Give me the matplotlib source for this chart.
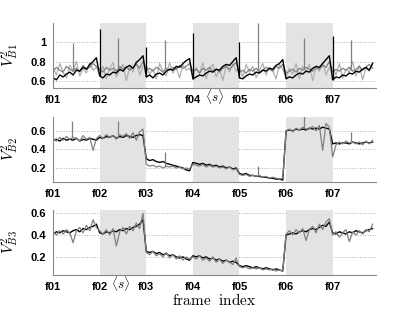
import numpy as np
import matplotlib
matplotlib.use('Agg')
import matplotlib.pyplot as plt

plt.rcParams['mathtext.fontset'] = 'cm'

# frame labels and shaded frames
frame_labels = ['f01', 'f02', 'f03', 'f04', 'f05', 'f06', 'f07']
shaded = [(1, 2), (3, 4), (5, 6)]
SAMPLES_PER_FRAME = 14

# ---- panel 1: V^2_B1 ----
b1_black = [
    [0.63, 0.61, 0.66, 0.64, 0.67, 0.69, 0.66, 0.71, 0.70, 0.74, 0.72, 0.77, 0.80, 0.84],
    [0.65, 0.63, 0.67, 0.66, 0.69, 0.68, 0.72, 0.70, 0.74, 0.76, 0.73, 0.79, 0.82, 0.86],
    [0.64, 0.66, 0.63, 0.67, 0.68, 0.66, 0.70, 0.72, 0.71, 0.75, 0.74, 0.78, 0.81, 0.83],
    [0.62, 0.64, 0.66, 0.65, 0.68, 0.70, 0.69, 0.72, 0.71, 0.75, 0.77, 0.76, 0.80, 0.84],
    [0.63, 0.62, 0.65, 0.67, 0.66, 0.69, 0.68, 0.71, 0.70, 0.73, 0.72, 0.76, 0.78, 0.82],
    [0.62, 0.64, 0.63, 0.66, 0.68, 0.67, 0.70, 0.69, 0.73, 0.75, 0.74, 0.78, 0.82, 0.86],
    [0.61, 0.64, 0.63, 0.66, 0.65, 0.68, 0.67, 0.70, 0.69, 0.72, 0.74, 0.71, 0.78],
]
b1_gray = [
    [0.70, 0.74, 0.71, 0.69, 0.75, 0.72, 0.70, 0.73, 0.70, 0.76, 0.72, 0.74, 0.78, 0.75],
    [0.72, 0.69, 0.74, 0.71, 0.73, 0.70, 0.75, 0.72, 0.75, 0.71, 0.74, 0.77, 0.73, 0.80],
    [0.71, 0.73, 0.70, 0.74, 0.72, 0.69, 0.73, 0.71, 0.74, 0.72, 0.76, 0.73, 0.75, 0.78],
    [0.70, 0.72, 0.68, 0.73, 0.71, 0.74, 0.70, 0.72, 0.69, 0.73, 0.75, 0.72, 0.76, 0.79],
    [0.69, 0.71, 0.68, 0.72, 0.70, 0.73, 0.69, 0.71, 0.74, 0.72, 0.70, 0.75, 0.73, 0.77],
    [0.68, 0.70, 0.72, 0.69, 0.73, 0.71, 0.74, 0.72, 0.70, 0.74, 0.72, 0.76, 0.74, 0.80],
    [0.69, 0.72, 0.70, 0.73, 0.71, 0.74, 0.70, 0.72, 0.75, 0.71, 0.74, 0.77, 0.73],
]
b1_light = [
    [0.74, 0.66, 0.78, 0.69, 0.63, 0.76, 0.70, 0.80, 0.65, 0.73, 0.68, 0.79, 0.71, 0.74],
    [0.66, 0.75, 0.62, 0.73, 0.79, 0.64, 0.71, 0.77, 0.60, 0.74, 0.69, 0.80, 0.66, 0.75],
    [0.76, 0.67, 0.72, 0.62, 0.78, 0.70, 0.65, 0.79, 0.68, 0.74, 0.63, 0.77, 0.71, 0.73],
    [0.65, 0.74, 0.68, 0.79, 0.62, 0.73, 0.77, 0.64, 0.72, 0.60, 0.76, 0.69, 0.78, 0.70],
    [0.73, 0.64, 0.77, 0.69, 0.75, 0.63, 0.71, 0.78, 0.66, 0.74, 0.70, 0.62, 0.77, 0.72],
    [0.64, 0.73, 0.67, 0.78, 0.62, 0.75, 0.69, 0.77, 0.60, 0.74, 0.70, 0.79, 0.66, 0.74],
    [0.74, 0.66, 0.78, 0.63, 0.72, 0.69, 0.80, 0.65, 0.76, 0.61, 0.73, 0.70, 0.79],
]
# single-sample spikes: (frame position, peak value)
b1_black_spike_x = [1.0, 2.0, 3.0, 4.0, 6.0]
b1_black_spike_top = [1.14, 0.95, 1.10, 1.00, 1.07]
b1_gray_spike_x = [0.42, 1.40, 2.40, 4.40, 5.39, 6.40]
b1_gray_spike_top = [0.99, 1.04, 1.02, 1.20, 1.05, 1.02]

# ---- panel 2: V^2_B2 ----
b2_black = [
    [0.50, 0.51, 0.49, 0.52, 0.50, 0.51, 0.50, 0.52, 0.49, 0.51, 0.50, 0.52, 0.51, 0.50],
    [0.53, 0.52, 0.54, 0.53, 0.55, 0.52, 0.54, 0.53, 0.55, 0.54, 0.53, 0.55, 0.56, 0.55],
    [0.30, 0.28, 0.29, 0.27, 0.26, 0.27, 0.25, 0.24, 0.23, 0.22, 0.21, 0.20, 0.18, 0.17],
    [0.26, 0.25, 0.24, 0.25, 0.23, 0.24, 0.22, 0.23, 0.21, 0.22, 0.20, 0.21, 0.19, 0.20],
    [0.14, 0.13, 0.14, 0.12, 0.12, 0.11, 0.11, 0.10, 0.10, 0.09, 0.09, 0.08, 0.08, 0.07],
    [0.60, 0.61, 0.60, 0.62, 0.61, 0.62, 0.61, 0.63, 0.62, 0.63, 0.62, 0.64, 0.63, 0.62],
    [0.46, 0.47, 0.46, 0.47, 0.47, 0.46, 0.48, 0.47, 0.46, 0.47, 0.48, 0.47, 0.48],
]
b2_gray = [
    [0.52, 0.49, 0.53, 0.50, 0.54, 0.51, 0.53, 0.52, 0.49, 0.55, 0.51, 0.53, 0.39, 0.52],
    [0.55, 0.52, 0.56, 0.53, 0.55, 0.51, 0.56, 0.54, 0.57, 0.52, 0.58, 0.50, 0.59, 0.62],
    [0.24, 0.22, 0.23, 0.21, 0.22, 0.20, 0.22, 0.21, 0.22, 0.20, 0.21, 0.19, 0.20, 0.19],
    [0.24, 0.23, 0.22, 0.24, 0.21, 0.23, 0.21, 0.22, 0.20, 0.21, 0.19, 0.21, 0.18, 0.19],
    [0.13, 0.12, 0.13, 0.11, 0.12, 0.11, 0.12, 0.10, 0.11, 0.09, 0.10, 0.09, 0.08, 0.09],
    [0.60, 0.62, 0.59, 0.63, 0.61, 0.64, 0.62, 0.62, 0.65, 0.60, 0.66, 0.39, 0.68, 0.64],
    [0.32, 0.45, 0.48, 0.46, 0.49, 0.47, 0.48, 0.46, 0.48, 0.45, 0.49, 0.46, 0.50],
]
b2_gray_spike_x = [0.41, 1.40, 2.40, 4.40, 5.39, 6.40]
b2_gray_spike_top = [0.71, 0.71, 0.37, 0.22, 0.76, 0.59]

# ---- panel 3: V^2_B3 ----
b3_black = [
    [0.41, 0.43, 0.42, 0.44, 0.43, 0.42, 0.44, 0.45, 0.43, 0.46, 0.45, 0.47, 0.48, 0.50],
    [0.42, 0.41, 0.43, 0.42, 0.44, 0.43, 0.45, 0.44, 0.46, 0.45, 0.47, 0.48, 0.50, 0.54],
    [0.25, 0.24, 0.25, 0.23, 0.24, 0.22, 0.23, 0.21, 0.22, 0.20, 0.19, 0.20, 0.18, 0.17],
    [0.21, 0.20, 0.21, 0.19, 0.20, 0.18, 0.19, 0.17, 0.18, 0.16, 0.17, 0.15, 0.16, 0.15],
    [0.12, 0.11, 0.12, 0.11, 0.10, 0.11, 0.10, 0.09, 0.10, 0.09, 0.08, 0.09, 0.08, 0.07],
    [0.40, 0.41, 0.42, 0.41, 0.43, 0.44, 0.43, 0.45, 0.46, 0.45, 0.47, 0.49, 0.48, 0.52],
    [0.42, 0.41, 0.43, 0.42, 0.41, 0.43, 0.42, 0.44, 0.43, 0.42, 0.44, 0.45, 0.46],
]
b3_gray = [
    [0.43, 0.40, 0.44, 0.41, 0.45, 0.42, 0.33, 0.44, 0.47, 0.42, 0.49, 0.44, 0.54, 0.47],
    [0.44, 0.41, 0.45, 0.40, 0.46, 0.30, 0.43, 0.47, 0.41, 0.48, 0.44, 0.51, 0.46, 0.60],
    [0.24, 0.22, 0.25, 0.21, 0.23, 0.20, 0.24, 0.19, 0.22, 0.18, 0.21, 0.17, 0.20, 0.18],
    [0.20, 0.18, 0.21, 0.17, 0.19, 0.16, 0.20, 0.15, 0.18, 0.14, 0.17, 0.15, 0.13, 0.19],
    [0.11, 0.10, 0.11, 0.09, 0.10, 0.09, 0.10, 0.08, 0.09, 0.08, 0.09, 0.07, 0.08, 0.07],
    [0.41, 0.44, 0.40, 0.45, 0.42, 0.46, 0.35, 0.45, 0.48, 0.42, 0.50, 0.45, 0.52, 0.55],
    [0.40, 0.43, 0.38, 0.42, 0.45, 0.34, 0.43, 0.40, 0.44, 0.41, 0.45, 0.43, 0.50],
]


def frames_to_xy(frames):
    xs, ys = [], []
    for k, vals in enumerate(frames):
        xs.append(k + np.arange(len(vals)) / SAMPLES_PER_FRAME)
        ys.append(vals)
    return np.concatenate(xs), np.concatenate(ys)


panels = [
    dict(series=[(b1_light, '#b0b0b0', 0.9), (b1_gray, '#808080', 0.9), (b1_black, 'black', 1.0)],
         spikes=[(b1_gray_spike_x, b1_gray_spike_top, b1_gray, '#808080'),
                 (b1_black_spike_x, b1_black_spike_top, b1_black, 'black')],
         ylim=(0.525, 1.2), yticks=[0.6, 0.8, 1.0], yticklabels=['0.6', '0.8', '1'],
         ylabel=r'$V^2_{B1}$', pos=[0.128, 0.718, 0.778, 0.208], note=3),
    dict(series=[(b2_black, 'black', 1.0), (b2_gray, '#808080', 0.9)],
         spikes=[(b2_gray_spike_x, b2_gray_spike_top, b2_gray, '#808080')],
         ylim=(0.05, 0.75), yticks=[0.2, 0.4, 0.6], yticklabels=['0.2', '0.4', '0.6'],
         ylabel=r'$V^2_{B2}$', pos=[0.128, 0.417, 0.778, 0.208], note=None),
    dict(series=[(b3_black, 'black', 1.0), (b3_gray, '#808080', 0.9)],
         spikes=[],
         ylim=(0.035, 0.63), yticks=[0.2, 0.4, 0.6], yticklabels=['0.2', '0.4', '0.6'],
         ylabel=r'$V^2_{B3}$', pos=[0.128, 0.119, 0.778, 0.208], note=1),
]

fig = plt.figure(figsize=(4.15, 3.12), dpi=100)
tickfont = dict(family='Liberation Sans', weight='bold', size=8)

for p in panels:
    ax = fig.add_axes(p['pos'])
    ax.set_axisbelow(True)
    for a, b in shaded:
        ax.axvspan(a, b, color='#e3e3e3', lw=0, zorder=1)
    for frames, col, lw in p['series']:
        x, y = frames_to_xy(frames)
        ax.plot(x, y, color=col, lw=lw, zorder=2)
    for sx, stop, frames, col in p['spikes']:
        x, y = frames_to_xy(frames)
        base = np.interp(sx, x, y)
        ax.vlines(sx, base, stop, color=col, lw=0.9, zorder=3)
    ax.set_xlim(0, 6.93)
    ax.set_ylim(*p['ylim'])
    ax.set_xticks(range(len(frame_labels)))
    ax.set_xticklabels(frame_labels, fontdict=tickfont)
    ax.set_yticks(p['yticks'])
    ax.set_yticklabels(p['yticklabels'], fontdict=tickfont)
    ax.tick_params(length=0, pad=5)
    ax.grid(axis='y', color='#b0b0b0', ls=':', lw=0.7)
    for s in ['top', 'right']:
        ax.spines[s].set_visible(False)
    for s in ['left', 'bottom']:
        ax.spines[s].set_color('#888888')
        ax.spines[s].set_linewidth(0.8)
    ax.set_ylabel(p['ylabel'], fontsize=11)
    ax.yaxis.set_label_coords(-0.10, 0.5)
    if p['note'] is not None:
        ax.text(p['note'] + 0.25, -0.13, r'$\langle s \rangle$', transform=ax.get_xaxis_transform(),
                ha='left', va='center', fontsize=9.5)
    last_ax = ax

last_ax.set_xlabel(r'$\mathrm{frame\ \ index}$', fontsize=11, labelpad=0)

fig.savefig('out.png', dpi=100)
